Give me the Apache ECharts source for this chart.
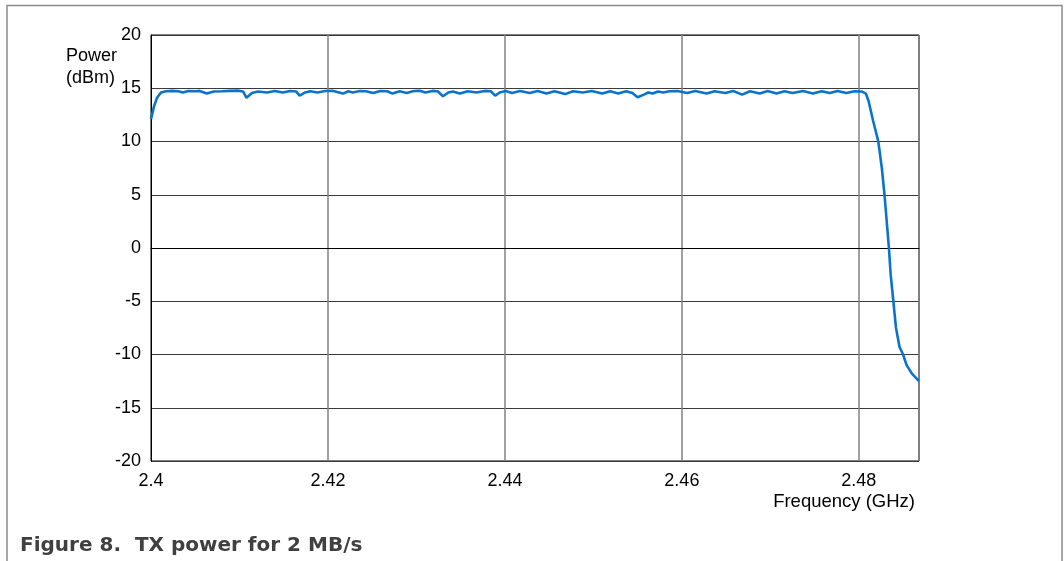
<!DOCTYPE html>
<html>
<head>
<meta charset="utf-8">
<script src="https://cdn.jsdelivr.net/npm/echarts@6/dist/echarts.min.js"></script>
<style>html,body{margin:0;padding:0;background:#fff}#c{width:1064px;height:561px}</style>
</head>
<body>
<div id="c"></div>
<script>
// Frequency (GHz) and TX power (dBm)
const freqGHz = [
  2.4000, 2.40034, 2.40068, 2.40113, 2.4017, 2.4024, 2.4031, 2.4036, 2.4042, 2.4050,
  2.4055, 2.4063, 2.4071, 2.4080, 2.4089, 2.4098, 2.4104, 2.4108, 2.4114, 2.4121,
  2.4131, 2.4140, 2.4149, 2.4157, 2.4164, 2.4168, 2.4174, 2.4180, 2.4188, 2.4197,
  2.4206, 2.4217, 2.4223, 2.4228, 2.4236, 2.4243, 2.4251, 2.4259, 2.4267, 2.4273,
  2.4281, 2.4289, 2.4297, 2.4304, 2.4310, 2.4318, 2.4324, 2.4330, 2.4336, 2.4341,
  2.4349, 2.4358, 2.4368, 2.4377, 2.4384, 2.4389, 2.4394, 2.4401, 2.4408, 2.4417,
  2.4428, 2.4437, 2.4447, 2.4456, 2.4468, 2.4477, 2.4488, 2.4498, 2.4510, 2.4519,
  2.4528, 2.4537, 2.4544, 2.4550, 2.4557, 2.4562, 2.4567, 2.4573, 2.4579, 2.4586,
  2.4595, 2.4606, 2.4615, 2.4628, 2.4637, 2.4649, 2.4658, 2.4668, 2.4677, 2.4688,
  2.4697, 2.4707, 2.4716, 2.4725, 2.4737, 2.4748, 2.4758, 2.4767, 2.4776, 2.4786,
  2.4795, 2.4803, 2.4808, 2.4811, 2.4816, 2.4822, 2.4826, 2.4829, 2.4832, 2.4834,
  2.4836, 2.4839, 2.4842, 2.4846, 2.4850, 2.4854, 2.4860, 2.4868
];
const powerDBm = [
  12.1, 13.3, 14.1, 14.6, 14.72, 14.75, 14.72, 14.6, 14.74, 14.72,
  14.75, 14.5, 14.7, 14.72, 14.75, 14.78, 14.7, 14.1, 14.55, 14.7,
  14.6, 14.75, 14.6, 14.74, 14.7, 14.3, 14.6, 14.72, 14.6, 14.74,
  14.75, 14.5, 14.72, 14.6, 14.74, 14.72, 14.55, 14.74, 14.72, 14.5,
  14.72, 14.55, 14.74, 14.76, 14.6, 14.75, 14.72, 14.25, 14.6, 14.7,
  14.5, 14.72, 14.6, 14.75, 14.72, 14.3, 14.6, 14.74, 14.55, 14.74,
  14.55, 14.74, 14.5, 14.72, 14.45, 14.72, 14.6, 14.74, 14.5, 14.72,
  14.5, 14.72, 14.55, 14.15, 14.4, 14.6, 14.5, 14.7, 14.6, 14.72,
  14.74, 14.55, 14.74, 14.5, 14.72, 14.55, 14.74, 14.4, 14.72, 14.5,
  14.74, 14.5, 14.72, 14.55, 14.74, 14.5, 14.72, 14.55, 14.74, 14.55,
  14.72, 14.7, 14.5, 13.8, 12.0, 10.0, 7.5, 5.0, 2.0, 0.0,
  -2.5, -5.0, -7.5, -9.3, -10.0, -11.0, -11.8, -12.5
];
const yTicks = [-20, -15, -10, -5, 0, 5, 10, 15, 20];
const xTicks = [2.40, 2.42, 2.44, 2.46, 2.48];

const seriesData = freqGHz.map((f, i) => [f, powerDBm[i]]);
const FONT = '"Liberation Sans", Arial, sans-serif';

const chart = echarts.init(document.getElementById('c'), null, {renderer: 'canvas'});
chart.setOption({
  backgroundColor: '#ffffff',
  animation: false,
  grid: {left: 151, top: 35, right: 145, bottom: 100, show: true, borderColor: '#000', borderWidth: 1, backgroundColor: 'transparent'},
  xAxis: {
    type: 'value', min: 2.4, max: 2.4868, interval: 0.02,
    axisLine: {show: true, lineStyle: {color: '#000', width: 1}},
    axisTick: {show: false},
    splitLine: {show: true, lineStyle: {color: '#808080', width: 1.5}},
    axisLabel: {
      fontFamily: FONT, fontSize: 18, color: '#000', margin: 11, showMaxLabel: false,
      formatter: v => xTicks.some(t => Math.abs(t - v) < 1e-6) ? String(parseFloat(v.toFixed(3))) : ''
    }
  },
  yAxis: {
    type: 'value', min: -20, max: 20, interval: 5,
    axisLine: {show: true, lineStyle: {color: '#000', width: 1}},
    axisTick: {show: false},
    splitLine: {show: true, lineStyle: {color: '#3a3a3a', width: 1}},
    axisLabel: {
      fontFamily: FONT, fontSize: 18, color: '#000', margin: 10,
      formatter: v => yTicks.includes(v) ? String(v) : ''
    }
  },
  series: [{
    type: 'line', data: seriesData, showSymbol: false, smooth: false,
    lineStyle: {color: '#0a74cc', width: 2.6}
  }],
  graphic: [
    {type: 'polyline', silent: true, shape: {points: [[7, 561], [7, 5.5], [1062, 5.5], [1062, 561]]}, style: {stroke: '#8a8a8a', lineWidth: 1.5, fill: null}},
    {type: 'text', left: 66, top: 47, style: {text: 'Power', font: '18px ' + FONT, fill: '#000'}},
    {type: 'text', left: 66, top: 69, style: {text: '(dBm)', font: '18px ' + FONT, fill: '#000'}},
    {type: 'text', right: 149, top: 492, style: {text: 'Frequency (GHz)', font: '18.5px ' + FONT, fill: '#000'}},
    {type: 'text', left: 20, top: 536, style: {text: 'Figure 8.  TX power for 2 MB/s', font: 'bold 20px "DejaVu Sans", sans-serif', fill: '#404040'}}
  ]
});
</script>
</body>
</html>
